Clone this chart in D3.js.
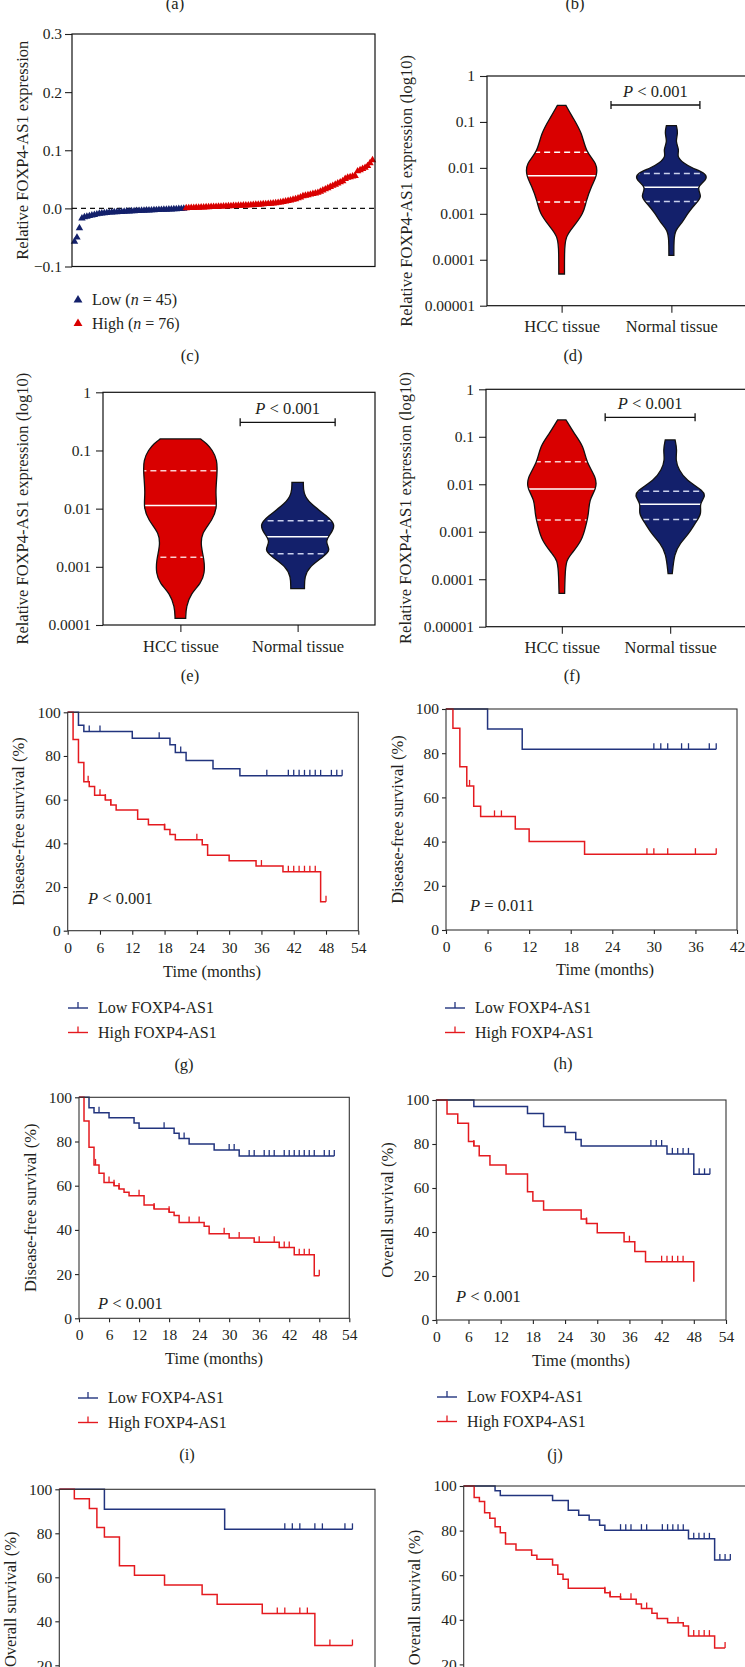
<!DOCTYPE html>
<html><head><meta charset="utf-8">
<script src="https://cdn.jsdelivr.net/npm/d3@7"></script>
<style>
body{margin:0;background:#fff}
svg{display:block}
text{font-family:"Liberation Serif","Times New Roman",serif;fill:#231f20}
</style>
</head><body><svg id="fig" width="745" height="1667"></svg>
<script>
// ================= DATA =================
// (c) waterfall of relative expression (sorted)
const waterLow = [-0.057,-0.050,-0.034,-0.017,-0.015,-0.014,-0.013,-0.012,-0.011,-0.010,-0.009,-0.0085,-0.008,-0.0075,-0.007,-0.0068,-0.0065,-0.0062,-0.006,-0.0058,-0.0055,-0.0052,-0.005,-0.0048,-0.0045,-0.0043,-0.0041,-0.0039,-0.0037,-0.0035,-0.0033,-0.0031,-0.0029,-0.0027,-0.0025,-0.0023,-0.0021,-0.0019,-0.0017,-0.0015,-0.0013,-0.0011,-0.0009,-0.0007,-0.0005];
const waterHigh = [0.0005,0.0007,0.0009,0.0011,0.0013,0.0015,0.0017,0.0019,0.0021,0.0023,0.0025,0.0027,0.0029,0.0031,0.0033,0.0035,0.0037,0.0039,0.0041,0.0043,0.0045,0.0047,
  0.0049,0.0051,0.0053,0.0055,0.0058,0.0061,0.0064,0.0067,0.007,0.0073,0.0076,0.0079,0.0083,0.0087,
  0.0092,0.0098,0.0105,0.0112,0.012,0.013,0.014,0.015,0.016,0.0175,
  0.019,0.021,0.022,0.023,0.024,0.025,0.026,0.027,0.029,0.031,0.033,0.035,
  0.037,0.039,0.041,0.043,0.045,0.047,0.051,0.053,
  0.054,0.055,0.056,0.064,0.066,0.068,0.070,0.073,0.078,0.083];
const waterTicks = [-0.1,0,0.1,0.2,0.3];
const waterGroups = ["Low","High"];
const waterN = [45,76];

// violin plots
const tissueCategories = ["HCC tissue","Normal tissue"];
const logTicks5 = [1,0.1,0.01,0.001,0.0001,0.00001];
const logTicks4 = [1,0.1,0.01,0.001,0.0001];
// (d)
const dHccVal = [0.23,0.13,0.057,0.022,0.0126,0.0067,0.0039,0.0018,0.00103,0.00053,0.00032,0.00014,0.000049];
const dHccDen = [0.12,0.30,0.58,0.68,1.0,1.0,0.83,0.68,0.62,0.34,0.10,0.08,0.08];
const dHccQ = [0.0018,0.0067,0.022];
const dNorVal = [0.083,0.0567,0.0373,0.0246,0.0176,0.0126,0.00984,0.00753,0.00548,0.0038,0.00238,0.0017,0.00103,0.000627,0.000449,0.000272,0.000124];
const dNorDen = [0.14,0.19,0.11,0.23,0.15,0.35,0.59,0.99,1.0,0.69,0.88,0.69,0.46,0.30,0.11,0.07,0.07];
const dNorQ = [0.00185,0.0038,0.0075];
// (e)
const eHccVal = [0.158,0.133,0.102,0.0687,0.0405,0.0184,0.0108,0.00638,0.00377,0.00222,0.00131,0.000773,0.00052,0.00035,0.000207,0.00013];
const eHccDen = [0.53,0.69,0.84,0.97,0.97,0.92,0.97,0.85,0.55,0.54,0.63,0.64,0.54,0.28,0.15,0.14];
const eHccQ = [0.00146,0.0113,0.045];
const eNorVal = [0.0284,0.0184,0.0124,0.00728,0.00524,0.00377,0.00271,0.00195,0.0015,0.00101,0.000678,0.000422];
const eNorDen = [0.15,0.15,0.31,0.80,1.0,0.88,0.71,0.88,0.68,0.31,0.18,0.18];
const eNorQ = [0.00168,0.0033,0.00622];
// (f)
const fHccVal = [0.226,0.118,0.0619,0.0299,0.0133,0.00794,0.00467,0.00244,0.00128,0.00067,0.000351,0.000254,0.000113,0.0000504];
const fHccDen = [0.12,0.35,0.63,0.69,1.0,0.98,0.78,0.77,0.68,0.58,0.29,0.12,0.09,0.08];
const fHccQ = [0.00177,0.0079,0.0299];
const fNorVal = [0.0857,0.0527,0.0325,0.02,0.0123,0.0071,0.00548,0.00378,0.00244,0.0015,0.000925,0.00057,0.000351,0.000131];
const fNorDen = [0.14,0.20,0.15,0.25,0.45,0.97,1.0,0.83,0.91,0.71,0.54,0.28,0.12,0.06];
const fNorQ = [0.0018,0.00378,0.0071];

// Kaplan-Meier curves: steps [time, survival %], censor times, last follow-up
const kmYTicks = [0,20,40,60,80,100];
const kmLegend = ["Low FOXP4-AS1","High FOXP4-AS1"];
// (g) DFS
const gLowSteps = [[2,94.1],[3,91.2],[12,88.1],[19,85.1],[20,81.6],[22,77.9],[27,74.2],[32,70.9]];
const gLowCens = [4,6,17,21,37,41,42,43,44,45,46,47,49,50,51];
const gLowEnd = 51;
const gHighSteps = [[1,87.5],[2,77.0],[3,68.2],[4,66.0],[5,62.0],[7,59.8],[8,57.6],[9,55.3],[13,51.0],[15,48.5],[18,46.3],[19,44.0],[20,41.7],[25,39.4],[26,34.5],[30,32.0],[35,29.6],[40,27.0],[47,13.3]];
const gHighCens = [3.8,6,7,8,18,24,36,41,42,43,44,45,46,48];
const gHighEnd = 48;
// (h) DFS
const hLowSteps = [[6,90.9],[11,81.8]];
const hLowCens = [30,31,32,34,35,38,39];
const hLowEnd = 39;
const hHighSteps = [[1,91.3],[2,73.9],[3,65.2],[4,56.0],[5,51.4],[10,45.7],[12,40.0],[20,34.3]];
const hHighCens = [3.4,7,8,29,30,32,36,39];
const hHighEnd = 39;
// (i) DFS
const iLowSteps = [[2,95.3],[3,93.0],[6,90.7],[11,88.4],[12,86.0],[19,83.7],[20,81.4],[22,78.9],[27,76.2],[32,73.4]];
const iLowCens = [4,17,21,30,31,34,35,37,38,39,41,42,43,44,45,46,47,49,50,51];
const iLowEnd = 51;
const iHighSteps = [[1,89.3],[2,77.4],[3,69.4],[4,65.6],[5,61.4],[7,60.0],[8,58.5],[9,57.0],[10,55.4],[13,51.3],[15,49.5],[18,48.0],[19,46.5],[20,43.4],[25,41.6],[26,38.3],[30,36.3],[35,34.4],[40,32.0],[43,28.7],[47,19.2]];
const iHighCens = [3.3,6,7,8,12,15,18,22,24,29,32,36,39,41,42,44,45,46,48];
const iHighEnd = 48;
// (j) OS
const jLowSteps = [[7,97.0],[17,93.9],[20,87.9],[24,85.2],[26,82.1],[27,79.1],[43,75.5],[48,66.2]];
const jLowCens = [40,41,42,44,45,46,47,49,50,51];
const jLowEnd = 51;
const jHighSteps = [[2,93.6],[4,89.4],[6,81.1],[7,79.1],[8,74.7],[10,70.5],[13,66.4],[17,58.3],[18,54.1],[20,50.0],[27,45.9],[28,43.9],[30,39.7],[35,35.6],[37,31.1],[39,26.5],[48,17.4]];
const jHighCens = [7,28,36,42,43,44,45,46];
const jHighEnd = 48;
// (k) OS
const kLowSteps = [[6,90.9],[22,81.8]];
const kLowCens = [30,31,32,34,35,38,39];
const kLowEnd = 39;
const kHighSteps = [[2,95.7],[4,91.3],[5,82.6],[6,78.3],[8,65.2],[10,60.9],[14,56.5],[19,52.2],[21,47.8],[27,43.5],[34,29.0]];
const kHighCens = [29,30,32,33,36,39];
const kHighEnd = 39;
// (l) OS
const lLowSteps = [[6,97.9],[7,95.7],[17,93.5],[20,89.1],[22,86.9],[24,84.7],[26,82.4],[27,80.2],[43,76.3],[48,66.8]];
const lLowCens = [30,31,32,34,35,38,39,40,41,42,44,45,46,47,49,50,51];
const lLowEnd = 51;
const lHighSteps = [[2,94.8],[3,93.0],[4,88.0],[5,85.5],[6,81.7],[7,79.0],[8,74.0],[10,71.3],[13,69.0],[14,67.1],[17,64.6],[18,60.4],[19,58.2],[20,54.1],[27,52.1],[28,50.3],[30,49.2],[33,47.1],[34,45.1],[36,42.9],[37,40.6],[39,38.7],[42,37.2],[43,32.7],[48,27.3]];
const lHighCens = [27,28,30,32,35,41,44,45,46,47,50];
const lHighEnd = 50;

// ================= STYLE =================
const NAVY = "#13206b", RED = "#d90000";
const KM_BLUE = "#22347e", KM_RED = "#e41a1f";
const TICK_FS = 15.5, TITLE_FS = 16.5, LEG_FS = 16, CAT_FS = 16.5;

const svg = d3.select("#fig");

function rotTitle(g, s, cx, cy) {
  g.append("text").attr("transform", `translate(${cx},${cy}) rotate(-90)`)
    .attr("text-anchor","middle").attr("dominant-baseline","central")
    .attr("font-size", TITLE_FS).text(s);
}
function pText(g, x, y, rest, anchor) {
  const t = g.append("text").attr("x", x).attr("y", y).attr("font-size", TITLE_FS)
    .attr("text-anchor", anchor || "start");
  t.append("tspan").attr("font-style","italic").text("P");
  t.append("tspan").text(rest);
}
function styleAxis(a, fs) {
  a.select(".domain").remove();
  a.attr("font-size", fs || TICK_FS).attr("color", "#222");
  a.selectAll(".tick line").attr("stroke-width", 1.1);
}

// ================= PANEL LABELS =================
[["(a)",175,9],["(b)",575,9],["(c)",190,361],["(d)",573,361],["(e)",190,681],["(f)",572,681],
 ["(g)",184,1070],["(h)",563,1069],["(i)",187,1460],["(j)",555,1460]].forEach(([s,x,y]) => {
  svg.append("text").attr("x",x).attr("y",y).attr("text-anchor","middle").attr("font-size",TITLE_FS).text(s);
});

// ================= (c) WATERFALL =================
(function(){
  const L=72, R=375, T=34, B=266.5;
  const g = svg.append("g");
  const all = waterLow.map(v=>({v,grp:0})).concat(waterHigh.map(v=>({v,grp:1})));
  const x = d3.scaleLinear().domain([-1, all.length]).range([L, R]);
  const y = d3.scaleLinear().domain([-0.1, 0.3]).range([B, T]);
  g.append("g").attr("transform",`translate(${L},0)`)
    .call(d3.axisLeft(y).tickValues(waterTicks).tickSize(7).tickPadding(3)
      .tickFormat(d => d < 0 ? "\u2212" + Math.abs(d).toFixed(1) : d.toFixed(1)))
    .call(a => styleAxis(a));
  g.append("line").attr("x1",L).attr("x2",R).attr("y1",y(0)).attr("y2",y(0))
    .attr("stroke","#111").attr("stroke-width",1.1).attr("stroke-dasharray","5,4");
  const sym = d3.symbol(d3.symbolTriangle).size(24);
  g.selectAll("path.tri").data(all).join("path").attr("class","tri")
    .attr("d", sym).attr("transform",(d,i)=>`translate(${x(i)},${y(d.v)})`)
    .attr("fill", d => d.grp ? RED : NAVY);
  g.append("rect").attr("x",L).attr("y",T).attr("width",R-L).attr("height",B-T)
    .attr("fill","none").attr("stroke","#111").attr("stroke-width",1.2);
  rotTitle(g, "Relative FOXP4-AS1 expression", L-50, (T+B)/2);
  // legend
  const legSym = d3.symbol(d3.symbolTriangle).size(34);
  waterGroups.forEach((name,i) => {
    const by = 305 + i*23.5;
    g.append("path").attr("d", legSym).attr("transform",`translate(78,${by-5})`).attr("fill", i ? RED : NAVY);
    const t = g.append("text").attr("x",92).attr("y",by).attr("font-size",LEG_FS);
    t.append("tspan").text(name + " (");
    t.append("tspan").attr("font-style","italic").text("n");
    t.append("tspan").text(" = " + waterN[i] + ")");
  });
})();

// ================= VIOLINS =================
let clipId = 0;
function drawViolinPanel(o) {
  const g = svg.append("g");
  const y = d3.scaleLog().domain([o.ticks[o.ticks.length-1], 1]).range([o.B, o.T]);
  const x = d3.scalePoint().domain(tissueCategories).range([o.L, o.R]).padding(o.pad);
  const w = d3.scaleLinear().domain([0,1]).range([0,o.maxHalf]);
  g.append("g").attr("transform",`translate(${o.L},0)`)
    .call(d3.axisLeft(y).tickValues(o.ticks).tickSize(7).tickPadding(5)
      .tickFormat(d => d >= 1 ? "1" : d.toFixed(Math.round(-Math.log10(d)))))
    .call(a => styleAxis(a));
  g.append("g").attr("transform",`translate(0,${o.B})`)
    .call(d3.axisBottom(x).tickSize(7).tickPadding(8))
    .call(a => styleAxis(a, CAT_FS));
  o.violins.forEach(v => {
    const cx = x(v.cat);
    const pts = v.vals.map((val,i)=>({val, den:v.den[i]}));
    const area = d3.area().curve(d3.curveBasis)
      .y(d=>y(d.val)).x0(d=>cx-w(d.den)).x1(d=>cx+w(d.den));
    const dstr = area(pts);
    const id = "vclip" + (clipId++);
    g.append("clipPath").attr("id", id).append("path").attr("d", dstr);
    g.append("path").attr("d", dstr).attr("fill", v.fill);
    const lg = g.append("g").attr("clip-path", `url(#${id})`);
    v.q.forEach((qv,i) => {
      lg.append("line").attr("x1", cx-o.maxHalf-2).attr("x2", cx+o.maxHalf+2)
        .attr("y1", y(qv)).attr("y2", y(qv))
        .attr("stroke", i===1 ? "#fff" : v.qColor).attr("stroke-width", 1.5)
        .attr("stroke-dasharray", i===1 ? null : "6,4");
    });
    g.append("path").attr("d", dstr).attr("fill","none").attr("stroke","#111").attr("stroke-width",1.3);
  });
  g.append("rect").attr("x",o.L).attr("y",o.T).attr("width",o.R-o.L).attr("height",o.B-o.T)
    .attr("fill","none").attr("stroke","#111").attr("stroke-width",1.2);
  rotTitle(g, "Relative FOXP4-AS1 expression (log10)", o.L-81, (o.T+o.B)/2);
  // significance bracket
  const step = x.step();
  const bx1 = x(tissueCategories[0]) + o.br[0]*step, bx2 = x(tissueCategories[1]) + o.br[1]*step;
  const by = o.T + o.brDy;
  g.append("line").attr("x1",bx1).attr("x2",bx2).attr("y1",by).attr("y2",by).attr("stroke","#111").attr("stroke-width",1.3);
  [bx1,bx2].forEach(bx => g.append("line").attr("x1",bx).attr("x2",bx).attr("y1",by-4).attr("y2",by+4).attr("stroke","#111").attr("stroke-width",1.3));
  pText(g, (bx1+bx2)/2, by-8, " < 0.001", "middle");
}

drawViolinPanel({L:487, R:746, T:76, B:305.7, pad:0.68, maxHalf:35.5, ticks:logTicks5, br:[0.45,0.26], brDy:29,
  violins:[{cat:tissueCategories[0], vals:dHccVal, den:dHccDen, q:dHccQ, fill:RED, qColor:"#fff"},
           {cat:tissueCategories[1], vals:dNorVal, den:dNorDen, q:dNorQ, fill:NAVY, qColor:"#c9d0ec"}]});
drawViolinPanel({L:103, R:375, T:392.3, B:625, pad:0.66, maxHalf:38, ticks:logTicks4, br:[0.51,0.32], brDy:30,
  violins:[{cat:tissueCategories[0], vals:eHccVal, den:eHccDen, q:eHccQ, fill:RED, qColor:"#fbd0d0"},
           {cat:tissueCategories[1], vals:eNorVal, den:eNorDen, q:eNorQ, fill:NAVY, qColor:"#c9d0ec"}]});
drawViolinPanel({L:486, R:746, T:389.3, B:626.7, pad:0.70, maxHalf:35, ticks:logTicks5, br:[0.40,0.23], brDy:28,
  violins:[{cat:tissueCategories[0], vals:fHccVal, den:fHccDen, q:fHccQ, fill:RED, qColor:"#fbd0d0"},
           {cat:tissueCategories[1], vals:fNorVal, den:fNorDen, q:fNorQ, fill:NAVY, qColor:"#c9d0ec"}]});

// ================= KAPLAN-MEIER =================
function drawKM(o) {
  const g = svg.append("g");
  const x = d3.scaleLinear().domain([0,o.xMax]).range([o.L,o.R]);
  const y = d3.scaleLinear().domain([0,100]).range([o.B,o.T]);
  g.append("g").attr("transform",`translate(0,${o.B})`)
    .call(d3.axisBottom(x).tickValues(d3.range(0,o.xMax+1,6)).tickSize(4).tickPadding(7))
    .call(a => styleAxis(a));
  g.append("g").attr("transform",`translate(${o.L},0)`)
    .call(d3.axisLeft(y).tickValues(kmYTicks).tickSize(4).tickPadding(3))
    .call(a => styleAxis(a));
  const line = d3.line().x(d=>x(d[0])).y(d=>y(d[1]));
  o.curves.forEach(c => {
    const pts = [[0,100]]; let cur = 100;
    c.steps.forEach(([t,s]) => { pts.push([t,cur]); pts.push([t,s]); cur = s; });
    pts.push([c.end, cur]);
    g.append("path").attr("d", line(pts)).attr("fill","none").attr("stroke",c.color).attr("stroke-width",1.5);
    const survAt = t => { let s = 100; c.steps.forEach(([tt,ss]) => { if (tt <= t) s = ss; }); return s; };
    c.cens.forEach(t => {
      const s = survAt(t);
      g.append("line").attr("x1",x(t)).attr("x2",x(t)).attr("y1",y(s)).attr("y2",y(s)-6)
        .attr("stroke",c.color).attr("stroke-width",1.3);
    });
  });
  g.append("rect").attr("x",o.L).attr("y",o.T).attr("width",o.R-o.L).attr("height",o.B-o.T)
    .attr("fill","none").attr("stroke","#333").attr("stroke-width",1.1);
  rotTitle(g, o.ytitle, o.L-49, (o.T+o.B)/2);
  if (o.xtitleY) g.append("text").attr("x", o.xtitleX).attr("y", o.xtitleY).attr("text-anchor","middle")
    .attr("font-size",TITLE_FS).text("Time (months)");
  if (o.p) pText(g, o.p[0], o.p[1], o.p[2]);
  if (o.leg) {
    kmLegend.forEach((name,i) => {
      const by = o.leg[1] + i*24.5, lx = o.leg[0];
      const col = i ? KM_RED : KM_BLUE;
      g.append("line").attr("x1",lx).attr("x2",lx+20).attr("y1",by-5).attr("y2",by-5).attr("stroke",col).attr("stroke-width",1.4);
      g.append("line").attr("x1",lx+10).attr("x2",lx+10).attr("y1",by-5).attr("y2",by-11).attr("stroke",col).attr("stroke-width",1.3);
      g.append("text").attr("x",lx+30).attr("y",by).attr("font-size",LEG_FS).text(name);
    });
  }
}

drawKM({L:67.7, R:358.3, T:712.3, B:930.7, xMax:54, ytitle:"Disease-free survival (%)",
  xtitleX:212, xtitleY:977, p:[88,904," < 0.001"], leg:[68,1013],
  curves:[{steps:gLowSteps, cens:gLowCens, end:gLowEnd, color:KM_BLUE},
          {steps:gHighSteps, cens:gHighCens, end:gHighEnd, color:KM_RED}]});
drawKM({L:446, R:737, T:709, B:930, xMax:42, ytitle:"Disease-free survival (%)",
  xtitleX:605, xtitleY:975, p:[470,911," = 0.011"], leg:[445,1013],
  curves:[{steps:hLowSteps, cens:hLowCens, end:hLowEnd, color:KM_BLUE},
          {steps:hHighSteps, cens:hHighCens, end:hHighEnd, color:KM_RED}]});
drawKM({L:79, R:349.3, T:1097.3, B:1318.3, xMax:54, ytitle:"Disease-free survival (%)",
  xtitleX:214, xtitleY:1364, p:[98,1309," < 0.001"], leg:[78,1403],
  curves:[{steps:iLowSteps, cens:iLowCens, end:iLowEnd, color:KM_BLUE},
          {steps:iHighSteps, cens:iHighCens, end:iHighEnd, color:KM_RED}]});
drawKM({L:436.3, R:726, T:1100, B:1320, xMax:54, ytitle:"Overall survival (%)",
  xtitleX:581, xtitleY:1366, p:[456,1302," < 0.001"], leg:[437,1402],
  curves:[{steps:jLowSteps, cens:jLowCens, end:jLowEnd, color:KM_BLUE},
          {steps:jHighSteps, cens:jHighCens, end:jHighEnd, color:KM_RED}]});
drawKM({L:59.3, R:375, T:1489.3, B:1709.3, xMax:42, ytitle:"Overall survival (%)",
  curves:[{steps:kLowSteps, cens:kLowCens, end:kLowEnd, color:KM_BLUE},
          {steps:kHighSteps, cens:kHighCens, end:kHighEnd, color:KM_RED}]});
drawKM({L:463.7, R:746, T:1486, B:1709, xMax:54, ytitle:"Overall survival (%)",
  curves:[{steps:lLowSteps, cens:lLowCens, end:lLowEnd, color:KM_BLUE},
          {steps:lHighSteps, cens:lHighCens, end:lHighEnd, color:KM_RED}]});
</script>
</body></html>
